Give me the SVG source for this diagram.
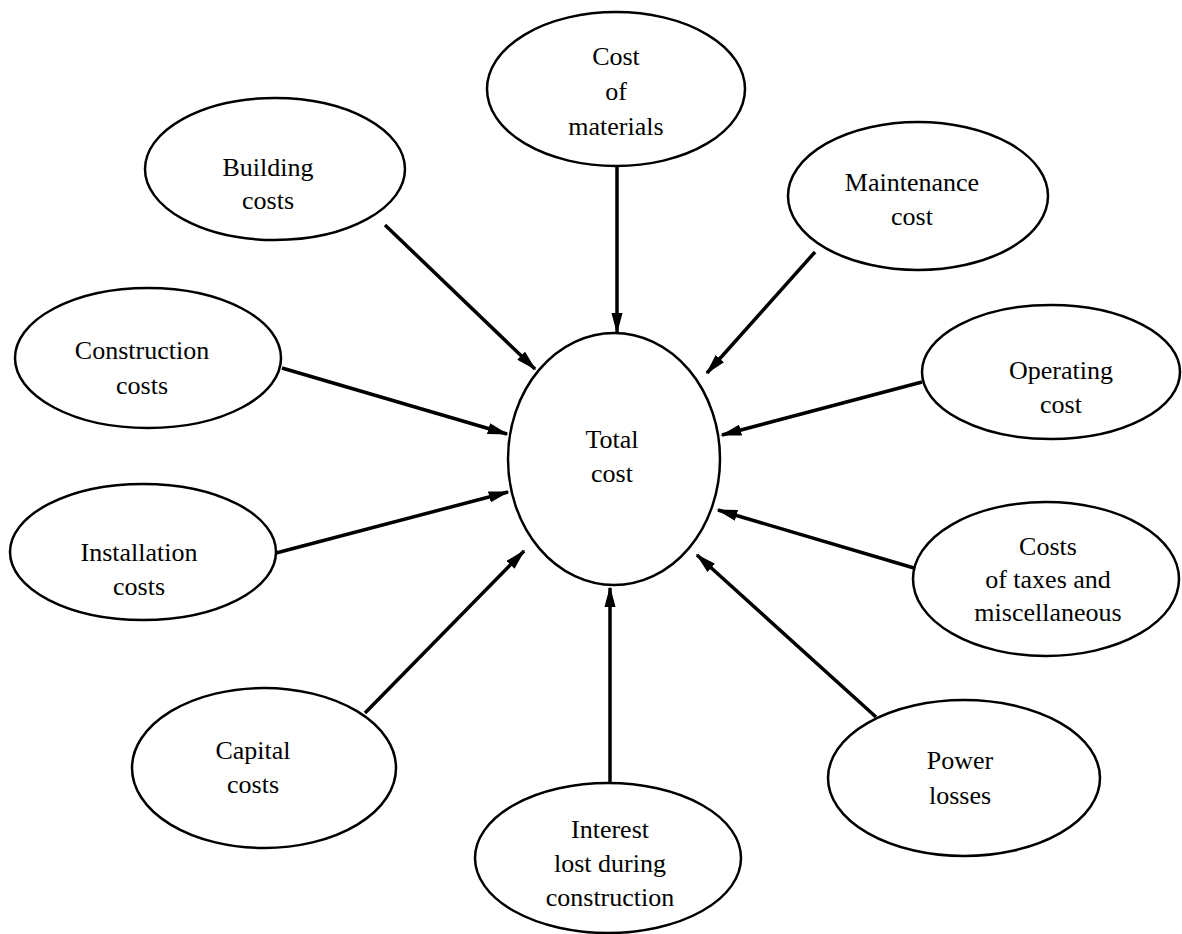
<svg xmlns="http://www.w3.org/2000/svg" width="1182" height="934" viewBox="0 0 1182 934">
<style>
.n{fill:#fff;stroke:#000;stroke-width:2.5}
.t{font-family:"Liberation Serif","Times New Roman",serif;font-size:26px;fill:#000;text-anchor:middle}
.c{stroke:#000;stroke-width:3.5;fill:none;marker-end:url(#ah)}
</style>
<defs>
<marker id="ah" markerWidth="6" markerHeight="3.2" refX="5.5" refY="1.6" orient="auto" markerUnits="strokeWidth">
<path d="M0,0 L6,1.6 L0,3.2 Z" fill="#000"/>
</marker>
</defs>
<rect width="1182" height="934" fill="#fff"/>
<g id="connectors">
<line class="c" x1="617" y1="166" x2="617" y2="332"/>
<line class="c" x1="385" y1="225" x2="535" y2="369"/>
<line class="c" x1="815" y1="252" x2="707" y2="373"/>
<line class="c" x1="282" y1="368" x2="507" y2="434"/>
<line class="c" x1="922" y1="382" x2="722" y2="435"/>
<line class="c" x1="276" y1="553" x2="508" y2="492"/>
<line class="c" x1="365" y1="713" x2="524" y2="551"/>
<line class="c" x1="610" y1="786" x2="610" y2="588"/>
<line class="c" x1="876" y1="717" x2="697" y2="555"/>
<line class="c" x1="914" y1="568" x2="718" y2="510"/>
</g>
<g id="total"><ellipse class="n" cx="614" cy="459" rx="106" ry="126"/><text class="t" x="612" y="448">Total</text><text class="t" x="612" y="482">cost</text></g>
<g id="materials"><ellipse class="n" cx="616" cy="89" rx="129" ry="77"/><text class="t" x="616" y="65">Cost</text><text class="t" x="616" y="100">of</text><text class="t" x="616" y="135">materials</text></g>
<g id="building"><ellipse class="n" cx="275" cy="169" rx="130" ry="71"/><text class="t" x="268" y="176">Building</text><text class="t" x="268" y="209">costs</text></g>
<g id="maintenance"><ellipse class="n" cx="918" cy="196" rx="130" ry="74"/><text class="t" x="912" y="191">Maintenance</text><text class="t" x="912" y="225">cost</text></g>
<g id="construction"><ellipse class="n" cx="148" cy="358" rx="133" ry="70"/><text class="t" x="142" y="359">Construction</text><text class="t" x="142" y="394">costs</text></g>
<g id="operating"><ellipse class="n" cx="1051" cy="372" rx="129" ry="67"/><text class="t" x="1061" y="379">Operating</text><text class="t" x="1061" y="413">cost</text></g>
<g id="installation"><ellipse class="n" cx="143" cy="552" rx="133" ry="68"/><text class="t" x="139" y="561">Installation</text><text class="t" x="139" y="595">costs</text></g>
<g id="taxes"><ellipse class="n" cx="1046" cy="579" rx="133" ry="77"/><text class="t" x="1048" y="555">Costs</text><text class="t" x="1048" y="588">of taxes and</text><text class="t" x="1048" y="621">miscellaneous</text></g>
<g id="capital"><ellipse class="n" cx="264" cy="768" rx="132" ry="80"/><text class="t" x="253" y="759">Capital</text><text class="t" x="253" y="793">costs</text></g>
<g id="power"><ellipse class="n" cx="964" cy="778" rx="136" ry="78"/><text class="t" x="960" y="769">Power</text><text class="t" x="960" y="804">losses</text></g>
<g id="interest"><ellipse class="n" cx="608" cy="858" rx="133" ry="75"/><text class="t" x="610" y="838">Interest</text><text class="t" x="610" y="872">lost during</text><text class="t" x="610" y="906">construction</text></g>
</svg>
